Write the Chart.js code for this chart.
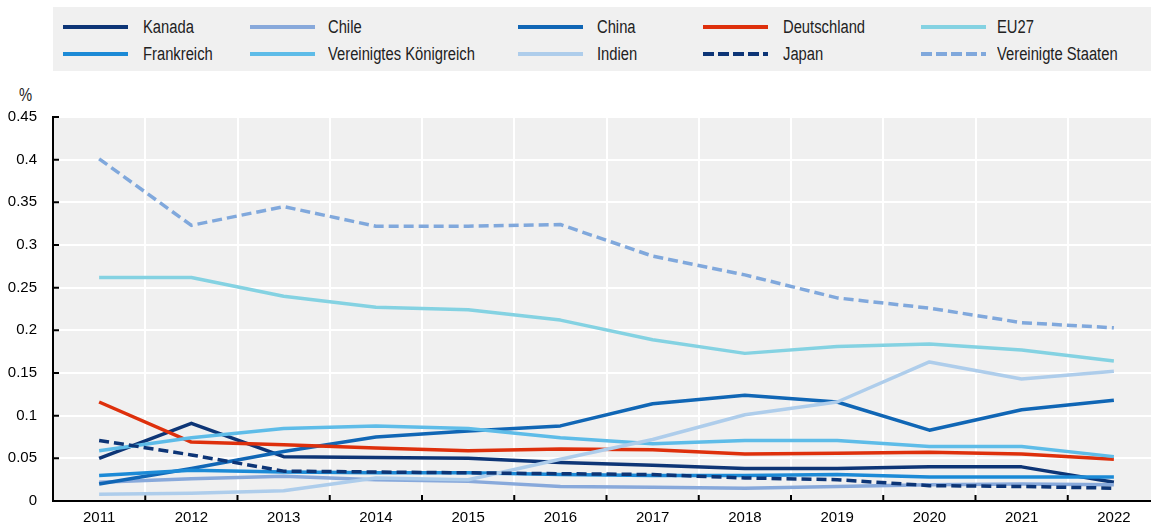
<!DOCTYPE html>
<html>
<head>
<meta charset="utf-8">
<script src="https://cdn.jsdelivr.net/npm/chart.js@4.4.1/dist/chart.umd.min.js"></script>
<style>
  html, body { margin: 0; padding: 0; background: #fff; overflow: hidden; width: 1151px; height: 526px; }
  #legendBox { position: absolute; left: 53px; top: 7px; width: 1098px; height: 64px; background: #f0f0f0; }
  .lg-line { position: absolute; width: 65px; height: 8px; }
  .lg-text, #unit { position: absolute; font: 18px 'Liberation Sans', Arial, sans-serif; color: #222; white-space: nowrap; line-height: 22px; transform: scaleX(0.82); transform-origin: 0 0; }
  #wrap { position: absolute; left: 0; top: 0; width: 1160px; height: 526px; }
</style>
</head>
<body>
<div id="legendBox"></div>
<div id="legend"></div>
<div id="unit" style="left:19px; top:84px;">%</div>
<div id="wrap"><canvas id="chart"></canvas></div>
<script>
// ============================================
// Data
// ============================================
const years = ['2011', '2012', '2013', '2014', '2015', '2016', '2017', '2018', '2019', '2020', '2021', '2022'];
const yTicks = [0, 0.05, 0.1, 0.15, 0.2, 0.25, 0.3, 0.35, 0.4, 0.45];
const yTickLabels = ['0', '0.05', '0.1', '0.15', '0.2', '0.25', '0.3', '0.35', '0.4', '0.45'];

const kanada = [0.050, 0.091, 0.052, 0.051, 0.050, 0.045, 0.042, 0.038, 0.038, 0.040, 0.040, 0.022];
const chile = [0.022, 0.026, 0.029, 0.025, 0.023, 0.017, 0.016, 0.015, 0.017, 0.019, 0.020, 0.019];
const china = [0.020, 0.038, 0.058, 0.075, 0.082, 0.088, 0.114, 0.124, 0.116, 0.083, 0.107, 0.118];
const deutschland = [0.116, 0.069, 0.066, 0.062, 0.059, 0.061, 0.060, 0.055, 0.056, 0.057, 0.055, 0.049];
const eu27 = [0.262, 0.262, 0.240, 0.227, 0.224, 0.212, 0.189, 0.173, 0.181, 0.184, 0.177, 0.164];
const frankreich = [0.030, 0.036, 0.034, 0.033, 0.033, 0.031, 0.030, 0.030, 0.031, 0.028, 0.028, 0.028];
const vereinigtesKoenigreich = [0.059, 0.074, 0.085, 0.088, 0.085, 0.074, 0.067, 0.071, 0.071, 0.064, 0.064, 0.052];
const indien = [0.008, 0.009, 0.012, 0.027, 0.025, 0.049, 0.072, 0.101, 0.116, 0.163, 0.143, 0.152];
const japan = [0.071, 0.054, 0.035, 0.034, 0.033, 0.032, 0.031, 0.027, 0.025, 0.018, 0.017, 0.015];
const vereinigteStaaten = [0.401, 0.323, 0.345, 0.322, 0.322, 0.324, 0.287, 0.265, 0.238, 0.226, 0.209, 0.203];

const series = [
    { name: 'Kanada', data: kanada, color: '#0d3576', dashed: false },
    { name: 'Chile', data: chile, color: '#88a9db', dashed: false },
    { name: 'China', data: china, color: '#1066b5', dashed: false },
    { name: 'Deutschland', data: deutschland, color: '#de300c', dashed: false },
    { name: 'EU27', data: eu27, color: '#84d2e2', dashed: false },
    { name: 'Frankreich', data: frankreich, color: '#1c8ad6', dashed: false },
    { name: 'Vereinigtes Königreich', data: vereinigtesKoenigreich, color: '#5ebce8', dashed: false },
    { name: 'Indien', data: indien, color: '#aecdeb', dashed: false },
    { name: 'Japan', data: japan, color: '#0d3576', dashed: true },
    { name: 'Vereinigte Staaten', data: vereinigteStaaten, color: '#80a8dc', dashed: true }
];

const FONT = "'Liberation Sans', Arial, sans-serif";

// ============================================
// Legend (HTML, two rows of five)
// ============================================
const legendCols = [{ line: 63, text: 143 }, { line: 250, text: 328 }, { line: 518, text: 597 }, { line: 703, text: 783 }, { line: 921, text: 997 }];
const legendRows = [27, 54];

function buildLegend() {
    const el = document.getElementById('legend');
    series.forEach((s, i) => {
        const col = legendCols[i % 5];
        const rowY = legendRows[Math.floor(i / 5)];
        const dash = s.dashed ? 'stroke-dasharray="11 4"' : '';
        el.insertAdjacentHTML('beforeend', `
            <svg class="lg-line" style="left:${col.line}px; top:${rowY - 4}px;" viewBox="0 0 65 8">
                <line x1="0" y1="4" x2="65" y2="4" stroke="${s.color}" stroke-width="4" ${dash}/>
            </svg>
            <div class="lg-text" style="left:${col.text}px; top:${rowY - 11}px;">${s.name}</div>
        `);
    });
}
buildLegend();

// ============================================
// Chart
// ============================================
const plotBackground = {
    id: 'plotBackground',
    beforeDraw(chart) {
        const { ctx, chartArea } = chart;
        ctx.save();
        ctx.fillStyle = '#f0f0f0';
        ctx.fillRect(chartArea.left, chartArea.top, chartArea.right - chartArea.left, chartArea.bottom - chartArea.top);
        ctx.restore();
    }
};

// short tick marks pointing into the plot
const innerTicks = {
    id: 'innerTicks',
    beforeDatasetsDraw(chart) {
        const { ctx, chartArea, scales: { x, y } } = chart;
        ctx.save();
        ctx.strokeStyle = '#000';
        ctx.lineWidth = 2;
        ctx.beginPath();
        yTicks.forEach(v => {
            const py = y.getPixelForValue(v);
            ctx.moveTo(chartArea.left, py);
            ctx.lineTo(chartArea.left + 6, py);
        });
        for (let i = 1; i < years.length; i++) {
            const px = x.getPixelForValue(i - 0.5);
            ctx.moveTo(px, chartArea.bottom);
            ctx.lineTo(px, chartArea.bottom - 6);
        }
        ctx.stroke();
        ctx.restore();
    }
};

new Chart(document.getElementById('chart').getContext('2d'), {
    type: 'line',
    data: {
        labels: years,
        datasets: series.map((s, i) => ({
            label: s.name,
            data: s.data,
            borderColor: s.color,
            backgroundColor: s.color,
            borderWidth: 3.5,
            borderDash: s.dashed ? [10, 5] : [],
            borderJoinStyle: 'round',
            pointRadius: 0,
            tension: 0,
            fill: false,
            order: -i
        }))
    },
    options: {
        responsive: true,
        maintainAspectRatio: false,
        animation: false,
        layout: { padding: { top: 117, right: 0, left: 0, bottom: 0 } },
        plugins: { legend: { display: false }, tooltip: { enabled: false } },
        scales: {
            x: {
                offset: true,
                grid: { offset: true, color: '#fff', lineWidth: 2, drawTicks: false },
                border: { color: '#000', width: 2 },
                ticks: { color: '#000', padding: 8, maxRotation: 0, autoSkip: false, font: { family: FONT, size: 15 } },
                afterFit: scale => { scale.height = 23; }
            },
            y: {
                min: 0,
                max: 0.45,
                grid: { color: '#fff', lineWidth: 2, drawTicks: false },
                border: { color: '#000', width: 2 },
                afterBuildTicks: scale => { scale.ticks = yTicks.map(v => ({ value: v })); },
                ticks: {
                    color: '#000',
                    padding: 16,
                    font: { family: FONT, size: 15 },
                    callback: (value, index) => yTickLabels[index]
                },
                afterFit: scale => { scale.width = 53; }
            }
        }
    },
    plugins: [plotBackground, innerTicks]
});
</script>
</body>
</html>
